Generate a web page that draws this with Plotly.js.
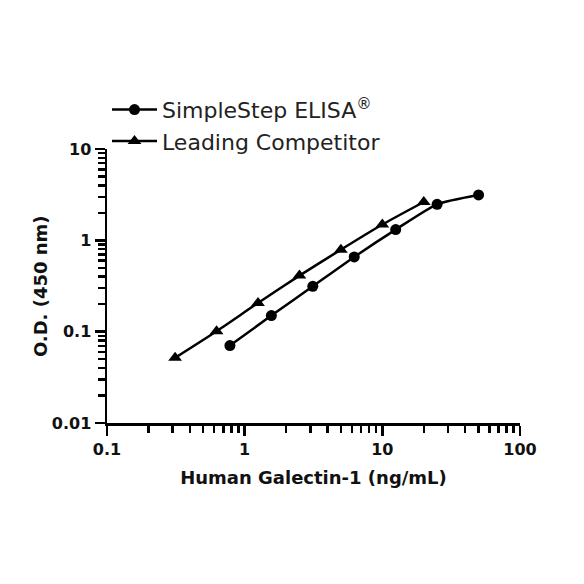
<!DOCTYPE html>
<html>
<head>
<meta charset="utf-8">
<script src="https://cdn.plot.ly/plotly-3.0.1.min.js"></script>
<style>
  html, body { margin: 0; padding: 0; background: #fff; }
  #chart { width: 584px; height: 584px; }
</style>
</head>
<body>
<div id="chart"></div>
<script>
// concentrations (ng/mL) and O.D. readings
var simpleConc = [0.78125, 1.5625, 3.125, 6.25, 12.5, 25, 50];
var simpleOD = [0.0705, 0.15, 0.314, 0.658, 1.31, 2.48, 3.14];
var compConc = [0.3125, 0.625, 1.25, 2.5, 5, 10, 20];
var compOD = [0.0517, 0.101, 0.206, 0.411, 0.79, 1.49, 2.63];

var traces = [
    {
        x: simpleConc, y: simpleOD,
        name: 'SimpleStep ELISA<sup>®</sup>',
        mode: 'lines+markers',
        type: 'scatter',
        line: {color: '#000', width: 2.5, shape: 'spline', smoothing: 0.6},
        marker: {symbol: 'circle', size: 11, color: '#000'}
    },
    {
        x: compConc, y: compOD,
        name: 'Leading Competitor',
        mode: 'lines+markers',
        type: 'scatter',
        line: {color: '#000', width: 2.5, shape: 'spline', smoothing: 0.6},
        marker: {symbol: 'triangle-up', size: 12, color: '#000'}
    }
];

var tickFont = {family: 'DejaVu Sans', size: 16, color: '#111', weight: 'bold'};
var titleFont = {family: 'DejaVu Sans', size: 18, color: '#111', weight: 'bold'};

function logAxis(range) {
    return {
        type: 'log',
        range: range,
        tickmode: 'linear',
        tick0: 0,
        dtick: 1,
        exponentformat: 'none',
        ticks: 'outside',
        ticklen: 10,
        tickwidth: 2.5,
        tickcolor: '#000',
        showline: true,
        linecolor: '#000',
        linewidth: 2.5,
        showgrid: false,
        zeroline: false,
        tickfont: tickFont,
        minor: {dtick: 'D1', ticks: 'outside', ticklen: 7, tickwidth: 2.5, tickcolor: '#000', showgrid: false}
    };
}

var xaxis = logAxis([-1, 2]);
xaxis.title = {text: 'Human Galectin-1 (ng/mL)', font: titleFont, standoff: 14};
var yaxis = logAxis([-2, 1]);

var layout = {
    width: 584,
    height: 584,
    paper_bgcolor: '#fff',
    plot_bgcolor: '#fff',
    margin: {l: 107, r: 64, t: 149, b: 161},
    showlegend: true,
    legend: {
        x: 0.0, y: 1.22, xanchor: 'left', yanchor: 'top',
        font: {family: 'DejaVu Sans', size: 22, color: '#222'},
        itemwidth: 45,
        tracegroupgap: 0,
        bgcolor: 'rgba(0,0,0,0)'
    },
    xaxis: xaxis,
    yaxis: yaxis,
    annotations: [{
        text: '<b>O.D. (450 nm)</b>',
        xref: 'paper', yref: 'paper',
        x: -0.162, y: 0.5,
        xanchor: 'center', yanchor: 'middle',
        textangle: -90,
        showarrow: false,
        font: titleFont
    }]
};

Plotly.newPlot('chart', traces, layout, {displayModeBar: false, staticPlot: true});
</script>
</body>
</html>
